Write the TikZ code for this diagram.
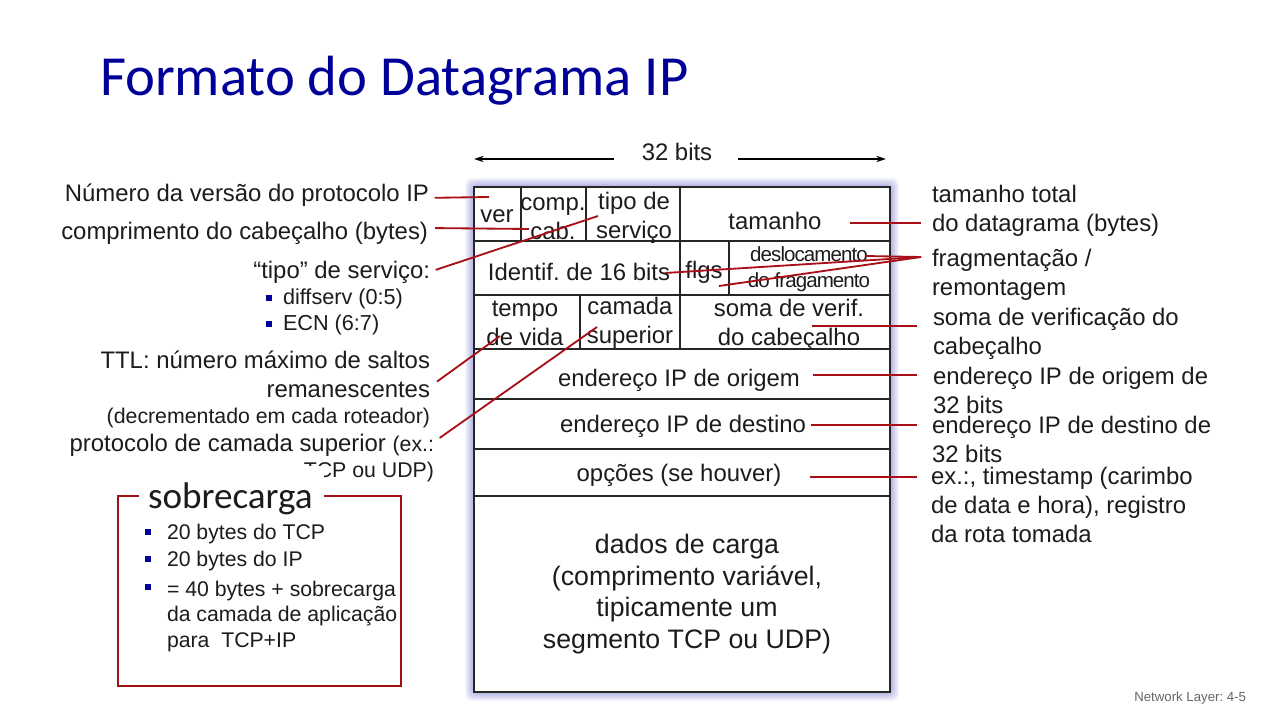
\documentclass[tikz,border=0pt]{standalone}
\usepackage{fontspec}
\setmainfont{Liberation Sans}
\newfontfamily\calibrifont{Carlito}
\newfontfamily\tightfont[LetterSpace=-4.5]{Liberation Sans}
\usetikzlibrary{arrows.meta,positioning,calc}
\definecolor{titleblue}{HTML}{000099}
\definecolor{linered}{HTML}{A80F16}
\definecolor{boxred}{HTML}{A01010}
\definecolor{inkgray}{HTML}{1C1C1C}
\frenchspacing

\begin{document}
\begin{tikzpicture}[
    x=0.025cm,y=-0.025cm,
    every node/.style={inner sep=0pt,outer sep=0pt,text=inkgray},
    cell/.style={align=center,font=\fontsize{17}{20.6}\selectfont},
    tightcell/.style={align=center,font=\tightfont\fontsize{14.6}{18.4}\selectfont},
    leftlbl/.style={anchor=east,align=right,font=\fontsize{17}{20.6}\selectfont},
    rightlbl/.style={anchor=west,align=left,font=\fontsize{17}{20.6}\selectfont},
    sublbl/.style={anchor=west,font=\fontsize{15.4}{17}\selectfont},
    overlbl/.style={anchor=west,align=left,font=\fontsize{15.1}{18.1}\selectfont},
    bullet/.style={fill=titleblue,minimum size=4.2pt},
    redline/.style={draw=linered,line width=1.3pt},
    tableline/.style={draw=black!85,line width=1.1pt}
  ]
    \useasboundingbox (0,0) rectangle (1280,720);
    \fill[white] (0,0) rectangle (1280,720);

    % Title and page mark
    \node[anchor=west,text=titleblue,font=\calibrifont\fontsize{40.3}{48}\selectfont] (title) at (100,81) {Formato do Datagrama IP};
    \node[anchor=east,text=black!60,font=\fontsize{9.4}{11}\selectfont] (pagemark) at (1246,698) {Network Layer: 4-5};

    % Blue glow behind the table
    \foreach \g in {1,...,9}
      \fill[blue!70!black,opacity=0.035,rounded corners=4pt] (474-\g,187-\g) rectangle (890+\g,692+\g);
    \draw[tableline,fill=white] (474,187) rectangle (890,692);

    % Table rows and columns
    \foreach \y in {241,295,349,399,449,496}
      \draw[tableline] (474,\y) -- (890,\y);
    \foreach \x in {521,586,680}
      \draw[tableline] (\x,187) -- (\x,241);
    \foreach \x in {680,729}
      \draw[tableline] (\x,241) -- (\x,295);
    \foreach \x in {580,680}
      \draw[tableline] (\x,295) -- (\x,349);

    % Width of the table
    \node[cell] (bits) at (677,152) {32 bits};
    \coordinate (bitsL) at (474,159);
    \coordinate (bitsR) at (886,159);
    \draw[-{Stealth[length=7pt,width=4.5pt]},line width=0.8pt] ([xshift=-20pt]bits.west |- bitsL) -- (bitsL);
    \draw[-{Stealth[length=7pt,width=4.5pt]},line width=0.8pt] ([xshift=18pt]bits.east |- bitsR) -- (bitsR);

    % Header fields
    \node[cell] (ver) at (497,216) {ver};
    \node[cell] (comp) at (553,219) {comp.\\cab.};
    \node[cell] (tipo) at (634,218) {tipo de\\serviço};
    \node[cell] (tamanho) at (775,221) {tamanho};
    \node[cell] (ident) at (579,272) {Identif. de 16 bits};
    \node[cell] (flgs) at (704,272) {flgs};
    \node[tightcell] (desloc) at (809,269) {deslocamento\\do fragamento};
    \node[cell] (tempo) at (525,323.5) {tempo\\de vida};
    \node[cell] (camada) at (630,322.5) {camada\\superior};
    \node[cell] (soma) at (789,325) {soma de verif.\\do cabeçalho};
    \node[cell] (origem) at (679,380) {endereço IP de origem};
    \node[cell] (destino) at (683,426) {endereço IP de destino};
    \node[cell] (opcoes) at (679,475) {opções (se houver)};
    \node[cell,font=\fontsize{19}{22.6}\selectfont] (dados) at (687,594) {dados de carga\\(comprimento variável,\\tipicamente um\\segmento TCP ou UDP)};

    % Labels on the left
    \node[leftlbl] (lblver) at (429,195) {Número da versão do protocolo IP};
    \node[leftlbl] (lblcomp) at (428,233) {comprimento do cabeçalho (bytes)};
    \node[leftlbl] (lbltipo) at (430,272) {“tipo” de serviço:};
    \node[sublbl] (diffserv) at (283,299) {diffserv (0:5)};
    \node[sublbl] (ecn) at (283,325) {ECN (6:7)};
    \node[bullet,left=8pt of diffserv,yshift=1pt] (bulletA) {};
    \node[bullet,left=8pt of ecn,yshift=1pt] (bulletB) {};
    \node[leftlbl] (lblttl) at (430,360) {TTL: número máximo de saltos};
    \node[leftlbl] (lblrem) at (430,390) {remanescentes};
    \node[leftlbl,font=\fontsize{15.15}{17}\selectfont] (lbldec) at (430,418) {(decrementado em cada roteador)};
    \node[leftlbl] (lblprot) at (434,445) {protocolo de camada superior {\fontsize{15.15}{17}\selectfont(ex.:}};
    \node[leftlbl] (lbltcp) at (434,472) {\fontsize{15.15}{17}\selectfont TCP ou UDP)};

    % Labels on the right
    \node[rightlbl] (rtam) at (932,210.5) {tamanho total\\do datagrama (bytes)};
    \node[rightlbl] (rfrag) at (932,275) {fragmentação /\\remontagem};
    \node[rightlbl] (rsoma) at (933,334) {soma de verificação do\\cabeçalho};
    \node[rightlbl] (rorig) at (933,390) {endereço IP de origem de\\32 bits};
    \node[rightlbl] (rdest) at (932,439) {endereço IP de destino de\\32 bits};
    \node[rightlbl] (rex) at (931,505) {ex.:, timestamp (carimbo\\de data e hora), registro\\da rota tomada};

    % Overhead box
    \draw[draw=boxred,line width=1.9pt] (118,496) rectangle (401,686);
    \node[fill=white,minimum width=132pt,minimum height=44pt] (sobrecover) at (231.5,497) {};
    \node[anchor=west,font=\calibrifont\fontsize{26.4}{30}\selectfont] (sobre) at (148,499) {sobrecarga};
    \node[overlbl] (over1) at (167,534) {20 bytes do TCP};
    \node[overlbl] (over2) at (167,561) {20 bytes do IP};
    \node[overlbl,anchor=north west] (over3) at (167,581) {= 40 bytes + sobrecarga\\da camada de aplicação\\para\ \ TCP+IP};
    \node[bullet] (bulletC) at (148,532) {};
    \node[bullet] (bulletD) at (148,559) {};
    \node[bullet] (bulletE) at (148,587) {};

    % Free ends of the leader lines
    \coordinate (endver) at (489,197);
    \coordinate (endcomp) at (529,229);
    \coordinate (endtipo) at (598,216);
    \coordinate (endttl) at (500,336);
    \coordinate (endprot) at (597,327);
    \coordinate (endtam) at (850,223);
    \coordinate (tamR) at (921,223);
    \coordinate (apex) at (921,257);
    \coordinate (endident) at (665,273);
    \coordinate (enddesloc) at (865,256);
    \coordinate (endflgs) at (719,286);
    \coordinate (endsoma) at (812,326);
    \coordinate (somaR) at (917,326);
    \coordinate (endorig) at (813,375);
    \coordinate (origR) at (917,375);
    \coordinate (enddest) at (811,425);
    \coordinate (destR) at (917,425);
    \coordinate (endop) at (810,477);
    \coordinate (opR) at (917,477);

    % Leader lines
    \draw[redline] ([xshift=4pt,yshift=-2pt]lblver.east) -- (endver);
    \draw[redline] ([xshift=5pt,yshift=3.5pt]lblcomp.east) -- (endcomp);
    \draw[redline] ([xshift=4pt,yshift=1.5pt]lbltipo.east) -- (endtipo);
    \draw[redline] ([xshift=5pt,yshift=6pt]lblrem.east) -- (endttl);
    \draw[redline] ([xshift=4pt,yshift=5pt]lblprot.east) -- (endprot);
    \draw[redline] (endtam) -- (tamR);
    \draw[redline] (apex) -- (endident);
    \draw[redline] (apex) -- (enddesloc);
    \draw[redline] (apex) -- (endflgs);
    \draw[redline] (endsoma) -- (somaR);
    \draw[redline] (endorig) -- (origR);
    \draw[redline] (enddest) -- (destR);
    \draw[redline] (endop) -- (opR);
\end{tikzpicture}
\end{document}
